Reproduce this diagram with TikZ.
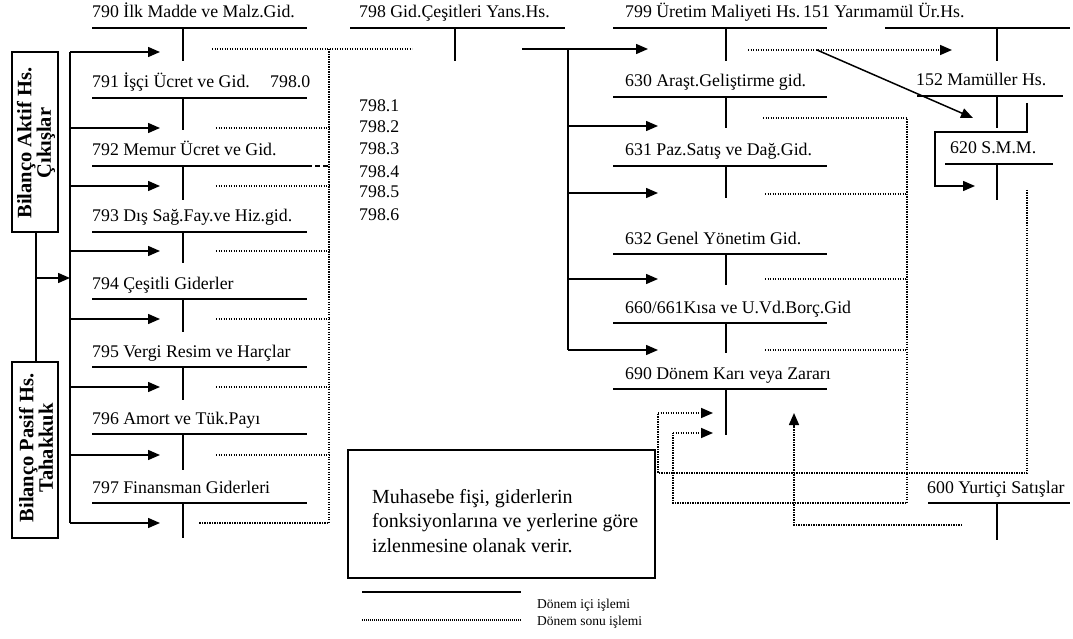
\documentclass[tikz,border=0pt]{standalone}
\usepackage{fontspec}
\setmainfont{Liberation Serif}
\usetikzlibrary{arrows.meta}
\begin{document}
\begin{tikzpicture}[x=1pt,y=-1pt,
 tl/.style={line width=1.7pt},
 ar/.style={line width=1.5pt,-{Triangle[length=12pt,width=10pt]}},
 dt/.style={line width=1.6pt,dash pattern=on 1.4pt off 1.1pt},
 dta/.style={dt,-{Triangle[length=12pt,width=10pt]}},
 lbl/.style={anchor=base west,inner sep=0pt,font=\fontsize{17.8}{20}\selectfont},
 bx/.style={draw,line width=1.5pt},
 rot/.style={rotate=90,align=center,inner sep=0pt,font=\fontsize{20.5}{19.5}\selectfont\bfseries}]
\useasboundingbox (0,0) rectangle (1073,639);

% left balance boxes
\draw[bx] (12,52) rectangle (58,232);
\node[rot] (bA) at (36,143) {Bilanço Aktif Hs.\\Çıkışlar};
\draw[bx] (12,362) rectangle (58,538);
\node[rot] (bP) at (36,448) {Bilanço Pasif Hs.\\Tahakkuk};
\draw[line width=1.5pt] (bA.west |- 0,232) -- (bP.east |- 0,362);
\draw[ar] (35,278) -- (70,278);
\draw[line width=1.5pt] (70,52) -- (70,523);

% left accounts 790-797
\foreach \n/\t/\ly/\sy/\ay in {
 790/{790 İlk Madde ve Malz.Gid.}/28/61/52,
 791/{791 İşçi Ücret ve Gid.}/98/130/128,
 792/{792 Memur Ücret ve Gid.}/166/200/186,
 793/{793 Dış Sağ.Fay.ve Hiz.gid.}/232/263/251,
 794/{794 Çeşitli Giderler}/299/332/319,
 795/{795 Vergi Resim ve Harçlar}/367/400/387,
 796/{796 Amort ve Tük.Payı}/434/470/455,
 797/{797 Finansman Giderleri}/503/538/523}{
  \node[lbl] (L\n) at (92,\ly-10) {\t};
  \draw[tl] (92,\ly) -- (307,\ly);
  \draw[tl] (183,\ly) -- (183,\sy);
  \draw[ar] (70,\ay) -- (160,\ay);
}
\node[lbl] (l7980) at (270,88) {798.0};
\draw[line width=1.5pt,dash pattern=on 5pt off 3pt] (307,166) -- (329,166);

% dotted collection to 798
\draw[dt] (212,49) -- (412,49);
\draw[dt] (329,49) -- (329,523) -- (199,523);
\foreach \y in {128,186,251,319,387,455}{
  \draw[dt] (216,\y) -- (329,\y);
}

% 798
\node[lbl] (l798) at (359,18) {798 Gid.Çeşitleri Yans.Hs.};
\draw[tl] (350,28) -- (565,28);
\draw[tl] (455,28) -- (455,61);
\foreach \t/\y in {798.1/112,798.2/133,798.3/155,798.4/178,798.5/198,798.6/220}{
  \node[lbl] at (359,\y) {\t};
}
\draw[ar] (522,49) -- (648,49);
\draw[line width=1.5pt] (568,49) -- (568,350);
\foreach \y in {126,193,279,350}{
  \draw[ar] (568,\y) -- (658,\y);
}

% right column
\foreach \n/\t/\ly/\sy in {
 799/{799 Üretim Maliyeti Hs.}/28/61,
 630/{630 Araşt.Geliştirme gid.}/97/128,
 631/{631 Paz.Satış ve Dağ.Gid.}/166/198,
 632/{632 Genel Yönetim Gid.}/254/285,
 660/{660/661Kısa ve U.Vd.Borç.Gid}/323/353,
 690/{690 Dönem Karı veya Zararı}/389/435}{
  \node[lbl] (R\n) at (625,\ly-10) {\t};
  \draw[tl] (613,\ly) -- (827,\ly);
  \draw[tl] (726,\ly) -- (726,\sy);
}

% 151, 152, 620, 600
\node[lbl] (l151) at (803,18) {151 Yarımamül Ür.Hs.};
\draw[tl] (885,28) -- (1070,28);
\draw[tl] (997,28) -- (997,61);
\node[lbl] (l152) at (916,86) {152 Mamüller Hs.};
\draw[tl] (917,96) -- (1063,96);
\draw[tl] (997,96) -- (997,128);
\node[lbl] (l620) at (950,154) {620 S.M.M.};
\draw[tl] (945,164) -- (1053,164);
\draw[tl] (997,164) -- (997,200);
\node[lbl] (l600) at (927,493) {600 Yurtiçi Satışlar};
\draw[tl] (928,503) -- (1070,503);
\draw[tl] (997,503) -- (997,540);

\draw[dta] (748,50) -- (952,50);
\draw[ar] (817,50) -- (973,118);
\draw[ar] (1027,103) -- (1027,132) -- (935,132) -- (935,186) -- (975,186);

% dotted closing entries
\draw[dt] (763,118) -- (907,118) -- (907,503) -- (673,503) -- (673,433);
\draw[dta] (673,433) -- (713,433);
\foreach \y in {194,279,350}{
  \draw[dt] (765,\y) -- (907,\y);
}
\draw[dt] (1027,190) -- (1027,473) -- (658,473) -- (658,413);
\draw[dta] (658,413) -- (713,413);
\draw[dt] (962,525) -- (794,525) -- (794,425);
\draw[dta] (794,430) -- (794,413);

% note box
\draw[bx] (348,450) rectangle (655,578);
\node[anchor=base west,inner sep=0pt,align=left,font=\fontsize{20}{24.5}\selectfont] (note) at (372,552)
 {Muhasebe fişi, giderlerin\\fonksiyonlarına ve yerlerine göre\\izlenmesine olanak verir.};

% legend
\draw[line width=1.5pt] (362,592) -- (521,592);
\node[anchor=base west,inner sep=0pt,font=\fontsize{13.5}{16}\selectfont] (lg1) at (537,608) {Dönem içi işlemi};
\draw[line width=1.2pt,dash pattern=on 1pt off 1pt] (362,620) -- (521,620);
\node[anchor=base west,inner sep=0pt,font=\fontsize{13.5}{16}\selectfont] (lg2) at (537,625) {Dönem sonu işlemi};
\end{tikzpicture}
\end{document}
